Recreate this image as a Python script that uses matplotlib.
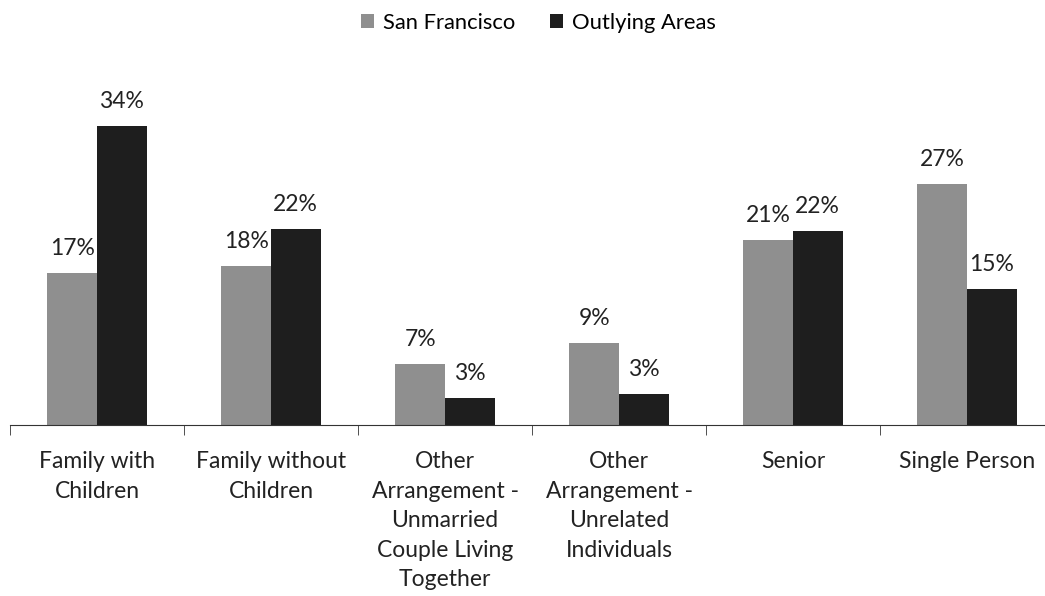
import matplotlib.pyplot as plt
import numpy as np
from matplotlib.patches import Patch

plt.rcParams['font.family'] = ['Lato', 'DejaVu Sans']

categories = ["Family with\nChildren", "Family without\nChildren",
              "Other\nArrangement -\nUnmarried\nCouple Living\nTogether",
              "Other\nArrangement -\nUnrelated\nIndividuals",
              "Senior", "Single Person"]
san_francisco = [17.3, 18.1, 6.9, 9.3, 21.0, 27.4]
outlying = [34.0, 22.3, 3.1, 3.5, 22.0, 15.4]
sf_labels = ["17%", "18%", "7%", "9%", "21%", "27%"]
out_labels = ["34%", "22%", "3%", "3%", "22%", "15%"]

sf_color = '#8f8f8f'
out_color = '#1e1e1e'

fig = plt.figure(figsize=(10.45, 5.96), dpi=100)
ax = fig.add_axes([10 / 1045, 171 / 596, 1044 / 1045, 352 / 596])

x = np.arange(len(categories))
w = 0.285
b1 = ax.bar(x - w / 2, san_francisco, w, color=sf_color)
b2 = ax.bar(x + w / 2, outlying, w, color=out_color)

for bars, labels in [(b1, sf_labels), (b2, out_labels)]:
    for rect, lab in zip(bars, labels):
        ax.annotate(lab, (rect.get_x() + rect.get_width() / 2, rect.get_height()),
                    xytext=(0, 13), textcoords='offset points',
                    ha='center', va='baseline', fontsize=16.5, color='#222222')

ax.set_xlim(-0.5, len(categories) - 0.5)
ax.set_ylim(0, 40)
ax.set_yticks([])
for s in ['top', 'right', 'left']:
    ax.spines[s].set_visible(False)
ax.spines['bottom'].set_color('#333333')

ax.set_xticks(x)
ax.set_xticklabels(categories, fontsize=16.5, color='#222222', linespacing=1.5)
ax.tick_params(axis='x', which='major', length=0, pad=19)
ax.set_xticks(np.arange(len(categories)) - 0.5, minor=True)
ax.tick_params(axis='x', which='minor', length=7, color='#333333', direction='out')

handles = [Patch(facecolor=sf_color, label='San Francisco'),
           Patch(facecolor=out_color, label='Outlying Areas')]
fig.legend(handles=handles, loc='upper center', bbox_to_anchor=(0.515, 1.012), ncol=2,
           frameon=False, fontsize=15.8, handlelength=0.6, handleheight=0.6,
           handletextpad=0.4, columnspacing=1.6)

fig.savefig('out.png', dpi=100)
